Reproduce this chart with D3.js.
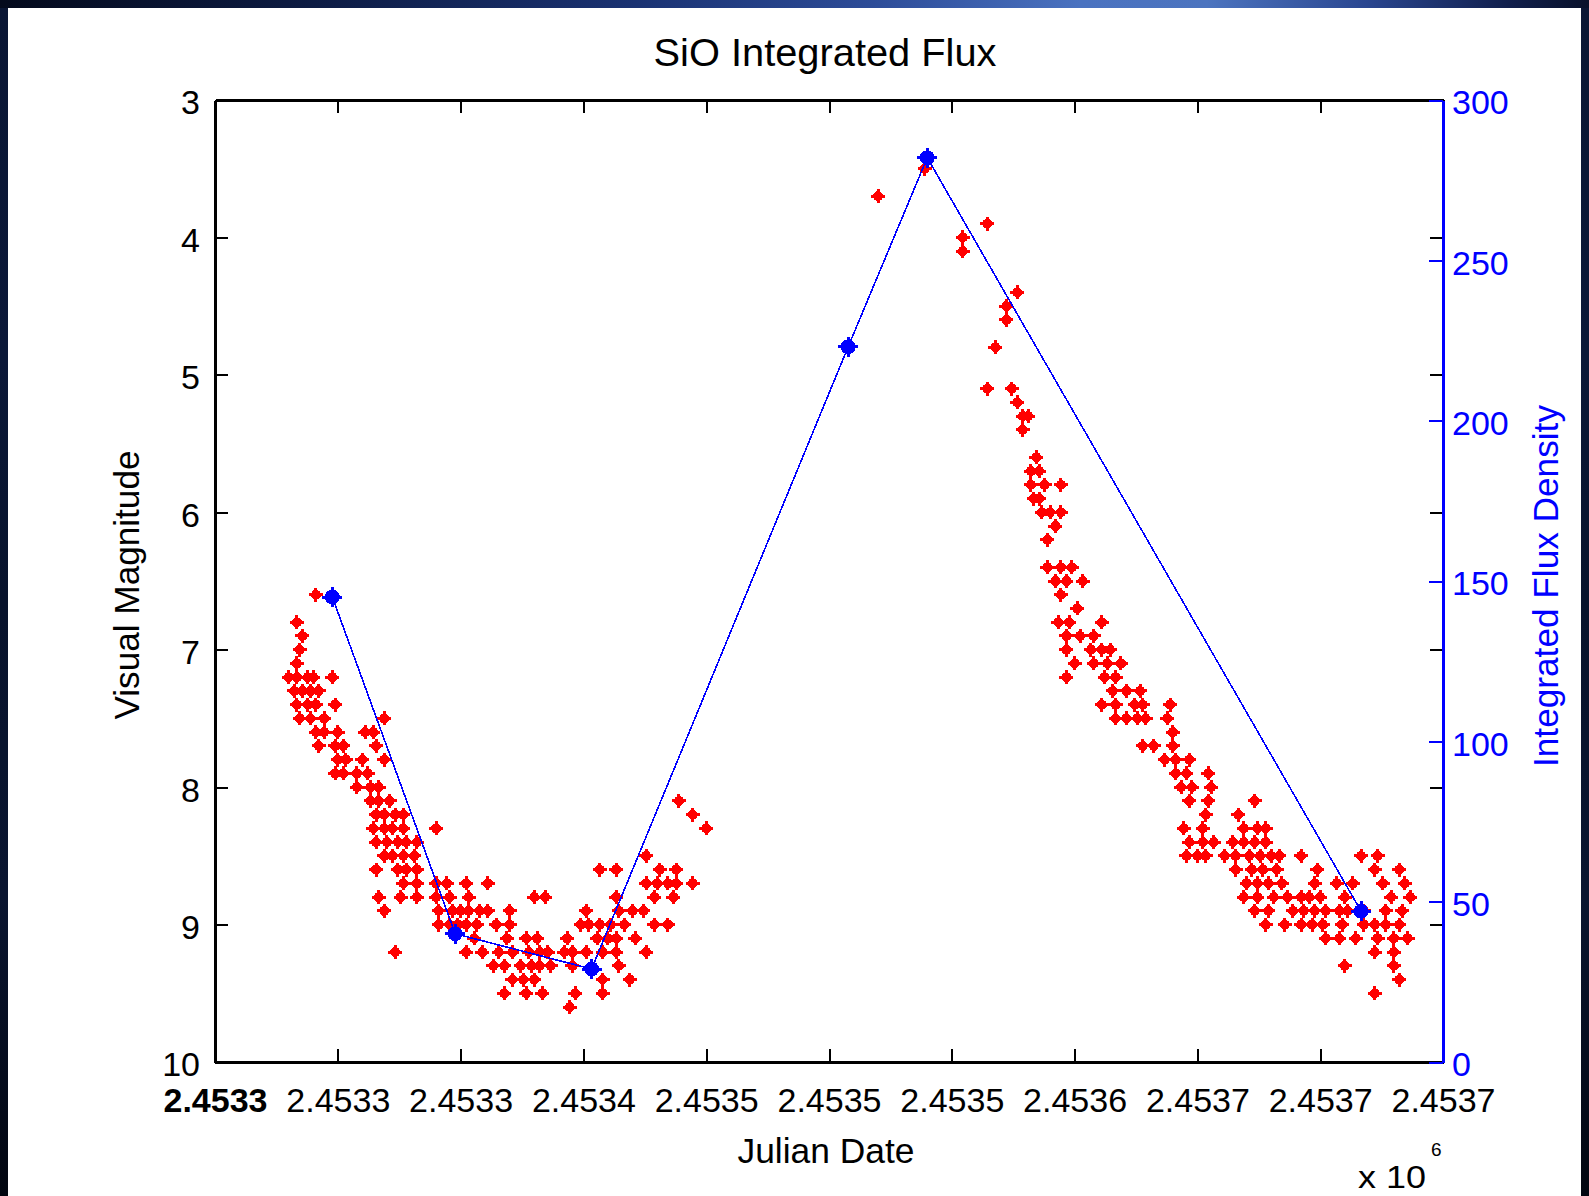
<!DOCTYPE html>
<html>
<head>
<meta charset="utf-8">
<title>SiO Integrated Flux</title>
<script src="https://cdn.jsdelivr.net/npm/d3@7/dist/d3.min.js"></script>
<style>
  html, body { margin: 0; padding: 0; background: #ffffff; overflow: hidden; }
  svg { display: block; }
</style>
</head>
<body>
<svg id="chart" width="1589" height="1196"></svg>
<script>
// ---- data -----------------------------------------------------------------
// Julian dates are stored as day offsets from this base.
const JD0 = 2453000;

// x-axis tick labels (Julian Date / 1e6, as printed)
const xTickLabels = ["2.4533", "2.4533", "2.4533", "2.4534", "2.4535", "2.4535",
                     "2.4535", "2.4536", "2.4537", "2.4537", "2.4537"];
const magTicks  = [3, 4, 5, 6, 7, 8, 9, 10];
const fluxTicks = [0, 50, 100, 150, 200, 250, 300];

// SiO integrated flux density measurements
const sioDays = [313, 358, 408, 502, 531, 690];
const sioFlux = [145, 40, 29, 223, 282, 47];

// Visual magnitude estimates: [magnitude, [days of the estimates]]
const visualRows = [
  [3.5, [530]],
  [3.7, [513]],
  [3.9, [553]],
  [4.0, [544]],
  [4.1, [544]],
  [4.4, [564]],
  [4.5, [560]],
  [4.6, [560]],
  [4.8, [556]],
  [5.1, [553, 562]],
  [5.2, [564]],
  [5.3, [566, 568]],
  [5.4, [566]],
  [5.6, [571]],
  [5.7, [569, 572]],
  [5.8, [569, 574, 580]],
  [5.9, [570, 572]],
  [6.0, [573, 576, 580]],
  [6.1, [578]],
  [6.2, [575]],
  [6.4, [575, 580, 584]],
  [6.5, [578, 582, 588]],
  [6.6, [307, 580]],
  [6.7, [586]],
  [6.8, [300, 579, 583, 595]],
  [6.9, [302, 582, 587, 592]],
  [7.0, [301, 582, 591, 595, 598]],
  [7.1, [300, 585, 592, 597, 602]],
  [7.2, [297, 300, 304, 306, 313, 582, 596, 600]],
  [7.3, [299, 302, 305, 308, 599, 604, 609]],
  [7.4, [300, 304, 307, 314, 595, 600, 607, 610, 620]],
  [7.5, [301, 305, 310, 332, 600, 604, 608, 611, 619]],
  [7.6, [307, 310, 315, 325, 328, 621]],
  [7.7, [308, 314, 317, 329, 610, 614, 621]],
  [7.8, [315, 318, 324, 332, 618, 622, 627]],
  [7.9, [314, 317, 322, 326, 622, 626, 634]],
  [8.0, [322, 327, 330, 624, 628, 635]],
  [8.1, [327, 330, 334, 440, 627, 634, 651]],
  [8.2, [329, 332, 336, 339, 445, 633, 645]],
  [8.3, [328, 332, 335, 339, 351, 450, 625, 632, 647, 652, 655]],
  [8.4, [329, 333, 337, 340, 344, 627, 632, 636, 643, 647, 651, 655]],
  [8.5, [332, 335, 339, 343, 428, 626, 630, 633, 640, 644, 649, 653, 657, 660, 668, 690, 696]],
  [8.6, [329, 337, 340, 344, 411, 417, 433, 439, 644, 650, 654, 659, 674, 695, 704]],
  [8.7, [339, 344, 351, 355, 362, 370, 428, 432, 436, 439, 445, 648, 652, 656, 661, 673, 681, 687, 698, 706]],
  [8.8, [330, 338, 344, 351, 356, 363, 387, 391, 417, 431, 438, 647, 652, 658, 663, 668, 671, 675, 684, 701, 708]],
  [8.9, [332, 352, 357, 360, 363, 367, 370, 378, 406, 418, 423, 427, 651, 656, 665, 669, 673, 677, 682, 685, 691, 699, 705]],
  [9.0, [352, 356, 359, 362, 366, 373, 378, 404, 407, 411, 415, 420, 431, 436, 655, 662, 668, 672, 676, 683, 691, 695, 699, 704]],
  [9.1, [365, 377, 384, 388, 399, 410, 414, 417, 424, 677, 682, 688, 696, 702, 707]],
  [9.2, [336, 362, 368, 374, 379, 385, 389, 392, 398, 401, 406, 412, 417, 428, 695, 702]],
  [9.3, [372, 376, 382, 386, 389, 393, 401, 418, 684, 702]],
  [9.4, [379, 383, 387, 412, 422, 704]],
  [9.5, [376, 384, 390, 402, 412, 695]],
  [9.6, [400]]
];

// ---- layout ---------------------------------------------------------------
const W = 1589, H = 1196;
const plot = { left: 215, right: 1443, top: 100, bottom: 1062 };
const FONT = "'Liberation Sans', Arial, Helvetica, sans-serif";
const RED = "#ff0000", BLUE = "#0000ff";
const TICK = 13;

const svg = d3.select("#chart");

// window frame
const defs = svg.append("defs");
const band = defs.append("linearGradient").attr("id", "topBand")
  .attr("x1", 0).attr("x2", 1).attr("y1", 0).attr("y2", 0);
[[0, "#040a1c"], [0.18, "#0c1a40"], [0.4, "#1a3272"], [0.55, "#2d4c98"],
 [0.68, "#4a72c0"], [0.76, "#4c74bf"], [0.86, "#2a4690"], [0.95, "#111f4c"], [1, "#08112a"]]
  .forEach(([o, c]) => band.append("stop").attr("offset", o).attr("stop-color", c));
const side = defs.append("linearGradient").attr("id", "sideBand")
  .attr("x1", 0).attr("x2", 0).attr("y1", 0).attr("y2", 1);
[[0, "#0a1634"], [0.3, "#0b1838"], [0.5, "#08132c"], [0.75, "#0a1530"], [1, "#020610"]]
  .forEach(([o, c]) => side.append("stop").attr("offset", o).attr("stop-color", c));

svg.append("rect").attr("width", W).attr("height", H).attr("fill", "#ffffff");
svg.append("rect").attr("x", 0).attr("y", 0).attr("width", 8).attr("height", H).attr("fill", "url(#sideBand)");
svg.append("rect").attr("x", W - 8).attr("y", 0).attr("width", 8).attr("height", H).attr("fill", "url(#sideBand)");
svg.append("rect").attr("x", 0).attr("y", 0).attr("width", W).attr("height", 8).attr("fill", "url(#topBand)");

// ---- scales ---------------------------------------------------------------
const x = d3.scaleLinear().domain([JD0 + 270, JD0 + 720]).range([plot.left, plot.right]);
const yMag = d3.scaleLinear().domain([3, 10]).range([plot.top, plot.bottom]);
const yFlux = d3.scaleLinear().domain([0, 300]).range([plot.bottom, plot.top]);
const xTickValues = d3.range(xTickLabels.length)
  .map(i => x.domain()[0] + i * (x.domain()[1] - x.domain()[0]) / (xTickLabels.length - 1));

// marker: a round body with a short cross through it
function drawMarks(g, data, px, py, color, radius, arm, bar) {
  const m = g.selectAll("g").data(data).join("g")
    .attr("transform", d => `translate(${px(d)},${py(d)})`)
    .attr("fill", color)
    .attr("shape-rendering", "crispEdges");
  m.append("circle").attr("r", radius);
  m.append("rect").attr("x", -arm).attr("y", -bar / 2).attr("width", 2 * arm).attr("height", bar);
  m.append("rect").attr("x", -bar / 2).attr("y", -arm).attr("width", bar).attr("height", 2 * arm);
}

// ---- visual magnitude points ----------------------------------------------
const visualObs = visualRows.flatMap(([mag, days]) => days.map(d => ({ jd: JD0 + d, mag })));
drawMarks(svg.append("g").attr("class", "visual"), visualObs,
  d => x(d.jd), d => yMag(d.mag), RED, 5, 7, 3);

// ---- SiO flux line --------------------------------------------------------
const sio = sioDays.map((d, i) => ({ jd: JD0 + d, flux: sioFlux[i] }));
svg.append("path").datum(sio)
  .attr("d", d3.line().x(d => x(d.jd)).y(d => yFlux(d.flux)))
  .attr("fill", "none").attr("stroke", BLUE).attr("stroke-width", 1.6)
  .attr("shape-rendering", "crispEdges");
drawMarks(svg.append("g").attr("class", "sio"), sio,
  d => x(d.jd), d => yFlux(d.flux), BLUE, 7.5, 10, 3);

// ---- axes -----------------------------------------------------------------
function styleAxis(g, color) {
  g.selectAll(".domain").attr("stroke", color).attr("stroke-width", 2.5);
  g.selectAll(".tick line").attr("stroke", color).attr("stroke-width", 2);
  g.selectAll("text").attr("fill", color).attr("font-family", FONT).attr("font-size", 34);
  g.attr("shape-rendering", "crispEdges");
}

// bottom (Julian Date)
const gBottom = svg.append("g").attr("transform", `translate(0,${plot.bottom})`)
  .call(d3.axisBottom(x).tickValues(xTickValues).tickFormat((d, i) => xTickLabels[i])
    .tickSizeInner(-TICK).tickSizeOuter(0).tickPadding(0));
styleAxis(gBottom, "#000");
gBottom.selectAll("text").attr("y", 50).attr("dy", null)
  .attr("font-weight", (d, i) => i === 0 ? "bold" : null);

// top edge
const gTop = svg.append("g").attr("transform", `translate(0,${plot.top})`)
  .call(d3.axisTop(x).tickValues(xTickValues).tickFormat("").tickSizeInner(-TICK).tickSizeOuter(0));
styleAxis(gTop, "#000");

// left (visual magnitude)
const gLeft = svg.append("g").attr("transform", `translate(${plot.left},0)`)
  .call(d3.axisLeft(yMag).tickValues(magTicks).tickFormat(d3.format("d"))
    .tickSizeInner(-TICK).tickSizeOuter(0).tickPadding(15));
styleAxis(gLeft, "#000");
gLeft.selectAll("text").attr("dy", "0.41em");

// magnitude ticks mirrored on the right edge
const gRightMag = svg.append("g").attr("transform", `translate(${plot.right},0)`)
  .call(d3.axisRight(yMag).tickValues(magTicks).tickFormat("").tickSizeInner(-TICK).tickSizeOuter(0));
styleAxis(gRightMag, "#000");
gRightMag.select(".domain").remove();

// right (integrated flux density)
const gRight = svg.append("g").attr("transform", `translate(${plot.right},0)`)
  .call(d3.axisRight(yFlux).tickValues(fluxTicks).tickFormat(d3.format("d"))
    .tickSizeInner(-14).tickSizeOuter(0).tickPadding(9));
styleAxis(gRight, BLUE);
gRight.selectAll("text").attr("dy", "0.41em");

// ---- titles and labels ----------------------------------------------------
svg.append("text").text("SiO Integrated Flux")
  .attr("x", 825).attr("y", 66).attr("text-anchor", "middle")
  .attr("font-family", FONT).attr("font-size", 39)
  .attr("textLength", 343).attr("lengthAdjust", "spacingAndGlyphs");

svg.append("text").text("Julian Date")
  .attr("x", 826).attr("y", 1163).attr("text-anchor", "middle")
  .attr("font-family", FONT).attr("font-size", 35)
  .attr("textLength", 177).attr("lengthAdjust", "spacingAndGlyphs");

svg.append("text").text("Visual Magnitude")
  .attr("transform", "translate(139,585) rotate(-90)").attr("text-anchor", "middle")
  .attr("font-family", FONT).attr("font-size", 35)
  .attr("textLength", 269).attr("lengthAdjust", "spacingAndGlyphs");

svg.append("text").text("Integrated Flux Density")
  .attr("transform", "translate(1558,586) rotate(-90)").attr("text-anchor", "middle")
  .attr("font-family", FONT).attr("font-size", 35).attr("fill", BLUE)
  .attr("textLength", 362).attr("lengthAdjust", "spacingAndGlyphs");

// axis multiplier
svg.append("text").text("x 10")
  .attr("x", 1358).attr("y", 1188)
  .attr("font-family", FONT).attr("font-size", 32)
  .attr("textLength", 68).attr("lengthAdjust", "spacingAndGlyphs");
svg.append("text").text("6")
  .attr("x", 1431).attr("y", 1156)
  .attr("font-family", FONT).attr("font-size", 19);
</script>
</body>
</html>
